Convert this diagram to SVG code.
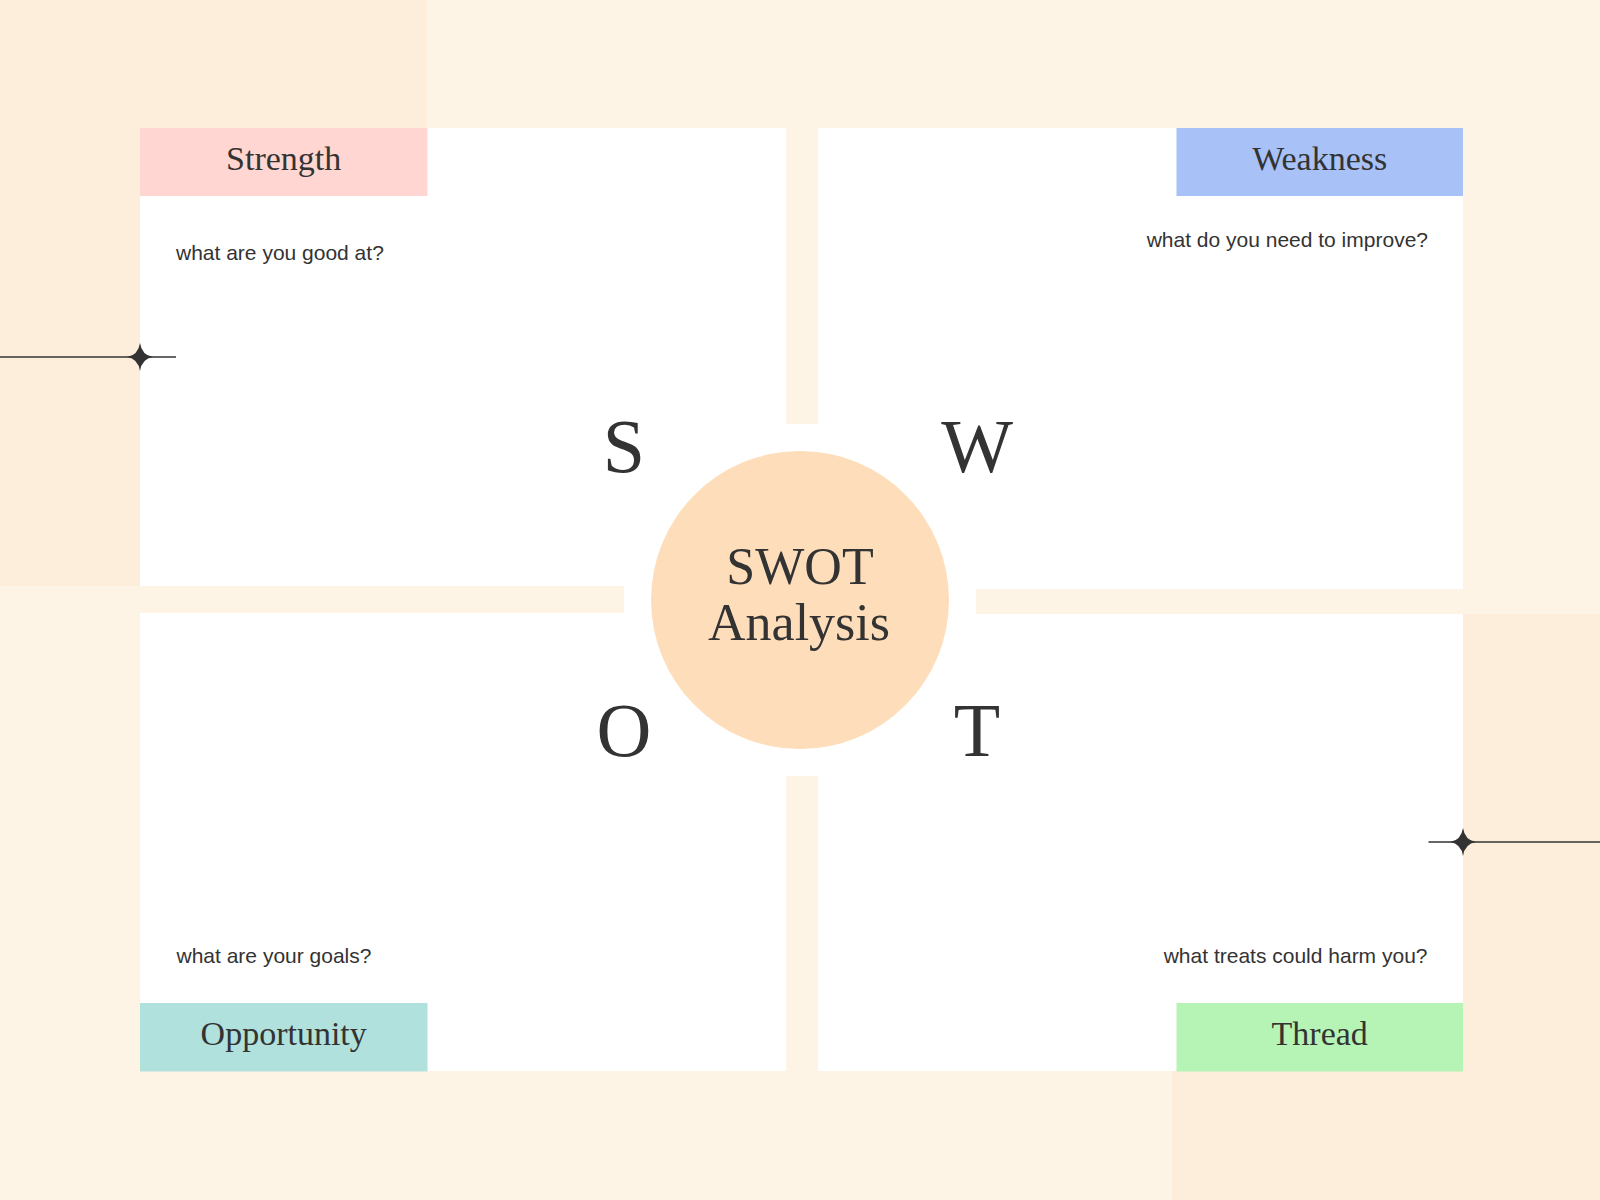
<svg xmlns="http://www.w3.org/2000/svg" width="1600" height="1200" viewBox="0 0 1600 1200">
  <defs>
    <style>
      .panel { fill: #FFFFFF; }
      .head { font-family: "Liberation Serif", "DejaVu Serif", serif; font-size: 34px; fill: #333333; text-anchor: middle; }
      .sub { font-family: "Liberation Sans", Arial, sans-serif; font-size: 21px; fill: #333333; }
      .letter { font-family: "Liberation Serif", "DejaVu Serif", serif; font-size: 76px; fill: #333333; text-anchor: middle; }
      .title { font-family: "Liberation Serif", "DejaVu Serif", serif; font-size: 52px; fill: #333333; text-anchor: middle; }
      .deco { stroke: #333333; stroke-width: 1.7; fill: none; }
      .star { fill: #333333; }
    </style>
    <path id="sparkle" d="M0,-14 Q1.8,-1.8 13,0 Q1.8,1.8 0,14 Q-1.8,1.8 -13,0 Q-1.8,-1.8 0,-14 Z"/>
  </defs>

  <g id="background">
    <rect x="0" y="0" width="1600" height="1200" fill="#FEF4E6"/>
    <rect x="0" y="0" width="427" height="586" fill="#FDEDDB"/>
    <rect x="1172" y="614" width="428" height="586" fill="#FDEDDB"/>
  </g>

  <g id="panels">
    <rect class="panel" x="140" y="128" width="646" height="458"/>
    <rect class="panel" x="818" y="128" width="645" height="461"/>
    <rect class="panel" x="140" y="613" width="646" height="458"/>
    <rect class="panel" x="818" y="614" width="645" height="457"/>
    <rect class="panel" x="624" y="424" width="352" height="352"/>
  </g>

  <g id="strength">
    <rect x="140" y="128" width="287.5" height="68" fill="#FFD6D1"/>
    <text class="head" x="283.7" y="169.5">Strength</text>
    <text class="sub" x="176" y="260">what are you good at?</text>
  </g>

  <g id="weakness">
    <rect x="1176.5" y="128" width="286.5" height="68" fill="#A8C1F7"/>
    <text class="head" x="1319.7" y="170">Weakness</text>
    <text class="sub" x="1428" y="247" text-anchor="end">what do you need to improve?</text>
  </g>

  <g id="opportunity">
    <rect x="140" y="1003" width="287.5" height="68.5" fill="#B0E1DC"/>
    <text class="head" x="283.7" y="1045">Opportunity</text>
    <text class="sub" x="176.5" y="962.5">what are your goals?</text>
  </g>

  <g id="thread">
    <rect x="1176.5" y="1003" width="286.5" height="68.5" fill="#B6F4B6"/>
    <text class="head" x="1319.7" y="1045">Thread</text>
    <text class="sub" x="1427.5" y="962.5" text-anchor="end">what treats could harm you?</text>
  </g>

  <g id="center">
    <circle cx="800" cy="600" r="149" fill="#FEDEBA"/>
    <text class="title" x="800" y="584">SWOT</text>
    <text class="title" x="799" y="640">Analysis</text>
  </g>

  <g id="letters">
    <text class="letter" x="624" y="472">S</text>
    <text class="letter" x="977" y="472">W</text>
    <text class="letter" x="624" y="756">O</text>
    <text class="letter" x="977" y="756">T</text>
  </g>

  <g id="connectors">
    <line class="deco" x1="0" y1="357" x2="176" y2="357"/>
    <use href="#sparkle" class="star" x="140" y="357"/>
    <line class="deco" x1="1428.5" y1="842" x2="1600" y2="842"/>
    <use href="#sparkle" class="star" x="1463" y="842"/>
  </g>
</svg>
